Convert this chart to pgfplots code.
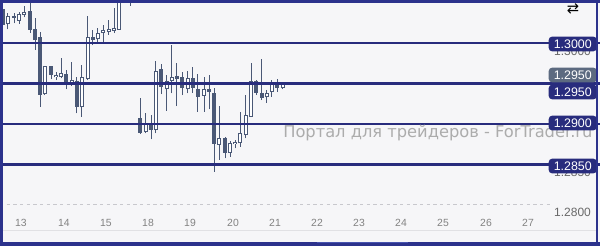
\documentclass[border=0pt]{standalone}
\usepackage{fontspec}
\setmainfont{Liberation Sans}
\newfontfamily\wmfont{DejaVu Sans}
\usepackage{pgfplots}
\usepackage{pgfplotstable}
\pgfplotsset{compat=1.18}
\definecolor{navy}{RGB}{40,44,125}
\definecolor{framec}{RGB}{44,50,140}
\definecolor{candle}{RGB}{74,88,118}
\definecolor{bg}{RGB}{246,246,248}
\definecolor{grayprice}{RGB}{92,106,128}
\definecolor{labelc}{RGB}{105,105,105}
\definecolor{datec}{RGB}{130,130,130}
\definecolor{wmc}{RGB}{172,172,172}
\tikzset{pricebox/.style={fill=navy, text=white, rounded corners=2.5pt, inner sep=0pt,
     minimum width=36pt, minimum height=11pt, font=\fontsize{9.3}{10}\selectfont, anchor=east}}

\pgfplotstableread{
x o h l c
2.7 1.30416 1.30444 1.30120 1.30222
14 1.30333 1.30374 1.30243 1.30312
30 1.30395 1.30531 1.30127 1.30161
35 1.30169 1.30305 1.29914 1.30037
40 1.30070 1.30140 1.29214 1.29358
51 1.29716 1.29720 1.29552 1.29605
66 1.29617 1.29667 1.29428 1.29502
76.7 1.29531 1.29584 1.29132 1.29214
92.7 1.30070 1.30161 1.29975 1.30037
130 1.30800 1.30900 1.30457 1.30700
140 1.29070 1.29317 1.28880 1.28885
151 1.29000 1.29111 1.28811 1.28926
161 1.29675 1.29741 1.29370 1.29453
176.7 1.29593 1.29757 1.29222 1.29552
182.3 1.29577 1.29646 1.29358 1.29441
192.7 1.29564 1.29707 1.29383 1.29441
197.7 1.29428 1.29617 1.29152 1.29337
209.3 1.29432 1.29605 1.29181 1.29399
214 1.29379 1.29441 1.28411 1.28753
225 1.28831 1.28843 1.28577 1.28638
256 1.29531 1.29543 1.29358 1.29386
261.7 1.29379 1.29799 1.29296 1.29325
277.3 1.29494 1.29552 1.29399 1.29441
}\bear

\pgfplotstableread{
x o h l c
7.7 1.30235 1.30367 1.30169 1.30337
19 1.30275 1.30386 1.30235 1.30354
24 1.30346 1.30457 1.30317 1.30386
44.7 1.29367 1.29720 1.29358 1.29716
56 1.29577 1.29646 1.29543 1.29605
61 1.29584 1.29811 1.29564 1.29626
71.7 1.29502 1.29769 1.29469 1.29543
81.7 1.29206 1.29728 1.29090 1.29577
87.7 1.29556 1.30333 1.29543 1.30070
97.7 1.30046 1.30181 1.29996 1.30120
103 1.30123 1.30222 1.30012 1.30161
108.7 1.30136 1.30284 1.30099 1.30173
114 1.30154 1.30432 1.30123 1.30185
119 1.30161 1.30900 1.30161 1.30800
124.3 1.30750 1.30950 1.30512 1.30850
135 1.30720 1.30900 1.30506 1.30780
145.7 1.28905 1.29140 1.28885 1.29016
155.7 1.28926 1.29781 1.28885 1.29654
166.7 1.29428 1.29605 1.29164 1.29535
171.7 1.29535 1.29975 1.29379 1.29577
187.7 1.29428 1.29658 1.29379 1.29564
204 1.29349 1.29584 1.29152 1.29428
219.3 1.28741 1.29222 1.28556 1.28831
230 1.28646 1.28794 1.28596 1.28769
235 1.28753 1.28802 1.28700 1.28781
240 1.28762 1.29152 1.28720 1.28885
245.7 1.28864 1.29358 1.28823 1.29111
251 1.29090 1.29749 1.29090 1.29531
266.7 1.29330 1.29420 1.29263 1.29379
271.7 1.29399 1.29543 1.29337 1.29522
282.7 1.29441 1.29522 1.29428 1.29502
}\bull

\begin{document}
\begin{tikzpicture}
\begin{axis}[
  scale only axis, width=450pt, height=184.5pt,
  xmin=0, xmax=600, ymin=1.274938, ymax=1.305309,
  axis line style={draw=none},
  axis background/.style={fill=bg},
  ytick=\empty,
  xtick={21,64,106,148,190,233,275,317,359,401,443,486,528},
  xticklabels={13,14,15,18,19,20,21,22,23,24,25,26,27},
  major tick length=0pt,
  xticklabel style={anchor=center, yshift=17.25pt, text=datec, font=\fontsize{7.8}{8}\selectfont},
  /pgf/number format/assume math mode=true,
]
% background guides
\draw[color={rgb,255:red,200;green,200;blue,205}, line width=0.75pt, dash pattern=on 2.5pt off 2.5pt]
  (axis cs:0,1.28) -- (axis cs:550,1.28);
\draw[color={rgb,255:red,225;green,225;blue,228}, line width=0.75pt]
  (axis cs:0,1.27691) -- (axis cs:597,1.27691);
% wicks
\addplot[candle, line width=0.75pt, quiver={u=0, v=\thisrow{h}-\thisrow{l}}] table[x=x, y=l] {\bear};
\addplot[candle, line width=0.75pt, quiver={u=0, v=\thisrow{h}-\thisrow{l}}] table[x=x, y=l] {\bull};
% bodies
\addplot[candle, line width=3pt, quiver={u=0, v=\thisrow{c}-\thisrow{o}}] table[x=x, y=o] {\bear};
\addplot[candle, line width=3pt, quiver={u=0, v=\thisrow{c}-\thisrow{o}}] table[x=x, y=o] {\bull};
\addplot[white, line width=1.5pt, shorten <=0.75pt, shorten >=0.75pt, quiver={u=0, v=\thisrow{c}-\thisrow{o}}] table[x=x, y=o] {\bull};
% level lines
\draw[navy, line width=2pt] (axis cs:0,1.300) -- (axis cs:600,1.300);
\draw[navy, line width=2pt] (axis cs:0,1.295) -- (axis cs:600,1.295);
\draw[navy, line width=2pt] (axis cs:0,1.290) -- (axis cs:600,1.290);
\draw[navy, line width=2pt] (axis cs:0,1.285) -- (axis cs:600,1.285);
% price scale tick labels (partly hidden behind the level boxes, as in the original)
\node[text=labelc, font=\fontsize{9}{9}\selectfont] at (axis cs:572.5,1.29895) {1.3000};
\node[text=labelc, font=\fontsize{9}{9}\selectfont] at (axis cs:572.5,1.28400) {1.2850};
\node[text=labelc, font=\fontsize{9}{9}\selectfont] at (axis cs:572.5,1.27914) {1.2800};
% watermark
\node[anchor=west, text=wmc, font=\wmfont\fontsize{12.2}{13}\selectfont, inner sep=0pt] at (axis cs:283,1.28889) {Портал для трейдеров - ForTrader.ru};
% price boxes
\node[pricebox] at (axis cs:597,1.29988) {1.3000};
\node[pricebox, fill=grayprice] at (axis cs:597,1.29605) {1.2950};
\node[pricebox] at (axis cs:597,1.29395) {1.2950};
\node[pricebox] at (axis cs:597,1.29012) {1.2900};
\node[pricebox] at (axis cs:597,1.28481) {1.2850};
% icon
\node[font=\wmfont\fontsize{11}{11}\selectfont, inner sep=0pt] at (axis cs:573,1.30420) {⇄};
% frame
\fill[framec] (axis cs:0,1.274938) rectangle (axis cs:3,1.305309);
\fill[framec] (axis cs:0,1.305309) rectangle (axis cs:600,1.305000);
\fill[framec] (axis cs:0,1.274938) rectangle (axis cs:600,1.275430);
\fill[framec] (axis cs:596,1.274938) rectangle (axis cs:597.5,1.305309);
\fill[color={rgb,255:red,72;green,84;blue,175}] (axis cs:317,1.275250) rectangle (axis cs:408,1.275430);
\end{axis}
\pgfresetboundingbox
\useasboundingbox (current axis.south west) rectangle (current axis.north east);
\end{tikzpicture}
\end{document}
